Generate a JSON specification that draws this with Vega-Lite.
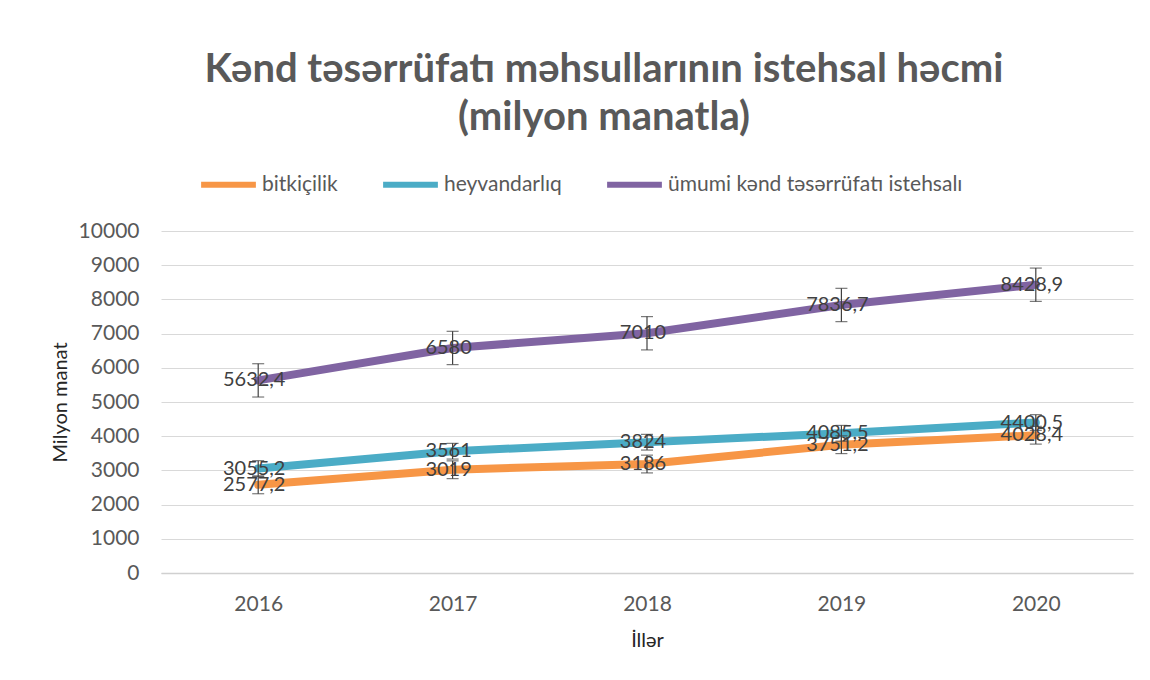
{
  "$schema": "https://vega.github.io/schema/vega-lite/v6.json",
  "width": 972,
  "height": 342,
  "padding": {"left": 50, "top": 50, "right": 15, "bottom": 20},
  "background": "white",
  "config": {
    "font": "Lato",
    "view": {"stroke": null},
    "axisY": {
      "titleFontSize": 20,
      "titleFontWeight": "normal",
      "titleColor": "#262626",
      "titlePadding": 8,
      "labelFontSize": 21,
      "labelColor": "#595959",
      "labelPadding": 22,
      "ticks": false,
      "domain": false,
      "gridColor": "#d9d9d9",
      "gridWidth": 1
    }
  },
  "title": {
    "text": ["Kənd təsərrüfatı məhsullarının istehsal həcmi", "(milyon manatla)"],
    "fontSize": 40,
    "fontWeight": "bold",
    "color": "#595959",
    "lineHeight": 48,
    "anchor": "middle",
    "dx": -43,
    "offset": 16
  },
  "data": {
    "values": [
      {"year": "2016", "series": "bitkiçilik", "value": 2577.2, "label": "2577,2", "lo": 2317.6, "hi": 2836.8},
      {"year": "2017", "series": "bitkiçilik", "value": 3019, "label": "3019", "lo": 2759.4, "hi": 3278.6},
      {"year": "2018", "series": "bitkiçilik", "value": 3186, "label": "3186", "lo": 2926.4, "hi": 3445.6},
      {"year": "2019", "series": "bitkiçilik", "value": 3751.2, "label": "3751,2", "lo": 3491.6, "hi": 4010.8},
      {"year": "2020", "series": "bitkiçilik", "value": 4028.4, "label": "4028,4", "lo": 3768.8, "hi": 4288.0},
      {"year": "2016", "series": "heyvandarlıq", "value": 3055.2, "label": "3055,2", "lo": 2825.7, "hi": 3284.7},
      {"year": "2017", "series": "heyvandarlıq", "value": 3561, "label": "3561", "lo": 3331.5, "hi": 3790.5},
      {"year": "2018", "series": "heyvandarlıq", "value": 3824, "label": "3824", "lo": 3594.5, "hi": 4053.5},
      {"year": "2019", "series": "heyvandarlıq", "value": 4085.5, "label": "4085,5", "lo": 3856.0, "hi": 4315.0},
      {"year": "2020", "series": "heyvandarlıq", "value": 4400.5, "label": "4400,5", "lo": 4171.0, "hi": 4630.0},
      {"year": "2016", "series": "ümumi kənd təsərrüfatı istehsalı", "value": 5632.4, "label": "5632,4", "lo": 5145.5, "hi": 6119.3},
      {"year": "2017", "series": "ümumi kənd təsərrüfatı istehsalı", "value": 6580, "label": "6580", "lo": 6093.1, "hi": 7066.9},
      {"year": "2018", "series": "ümumi kənd təsərrüfatı istehsalı", "value": 7010, "label": "7010", "lo": 6523.1, "hi": 7496.9},
      {"year": "2019", "series": "ümumi kənd təsərrüfatı istehsalı", "value": 7836.7, "label": "7836,7", "lo": 7349.8, "hi": 8323.6},
      {"year": "2020", "series": "ümumi kənd təsərrüfatı istehsalı", "value": 8428.9, "label": "8428,9", "lo": 7942.0, "hi": 8915.8}
    ]
  },
  "encoding": {
    "x": {
      "field": "year",
      "type": "ordinal",
      "scale": {"type": "point", "padding": 0.5},
      "axis": {
        "title": "İllər",
        "titleFontSize": 20,
        "titleFontWeight": "normal",
        "titleColor": "#262626",
        "titlePadding": 16,
        "labelAngle": 0,
        "labelFontSize": 21,
        "labelColor": "#595959",
        "labelPadding": 20,
        "ticks": false,
        "domainColor": "#d0d0d0",
        "domainWidth": 1.5,
        "grid": false
      }
    }
  },
  "layer": [
    {
      "mark": {"type": "line", "strokeWidth": 8, "strokeCap": "round", "strokeJoin": "round"},
      "encoding": {
        "y": {
          "field": "value",
          "type": "quantitative",
          "title": "Milyon manat",
          "scale": {"domain": [0, 10000], "nice": false},
          "axis": {"values": [0, 1000, 2000, 3000, 4000, 5000, 6000, 7000, 8000, 9000, 10000], "format": "d", "labelOverlap": false}
        },
        "color": {
          "field": "series",
          "type": "nominal",
          "scale": {
            "domain": ["bitkiçilik", "heyvandarlıq", "ümumi kənd təsərrüfatı istehsalı"],
            "range": ["#F79646", "#4BACC6", "#8064A2"]
          },
          "legend": {
            "title": null,
            "orient": "none",
            "direction": "horizontal",
            "legendX": 37,
            "legendY": -77,
            "symbolType": "stroke",
            "symbolStrokeWidth": 6,
            "symbolSize": 3000,
            "labelFontSize": 21,
            "labelColor": "#595959",
            "labelOffset": 3,
            "labelLimit": 500,
            "columnPadding": 33
          }
        }
      }
    },
    {
      "mark": {"type": "errorbar", "ticks": {"size": 12}, "color": "#404040", "thickness": 1.2},
      "encoding": {
        "y": {
          "field": "lo",
          "type": "quantitative",
          "title": "Milyon manat",
          "axis": {"values": [0, 1000, 2000, 3000, 4000, 5000, 6000, 7000, 8000, 9000, 10000], "format": "d", "labelOverlap": false}
        },
        "y2": {"field": "hi"}
      }
    },
    {
      "mark": {"type": "text", "fontSize": 20, "color": "#404040", "align": "center", "baseline": "middle", "dx": -4},
      "encoding": {
        "y": {
          "field": "value",
          "type": "quantitative",
          "title": "Milyon manat",
          "axis": {"values": [0, 1000, 2000, 3000, 4000, 5000, 6000, 7000, 8000, 9000, 10000], "format": "d", "labelOverlap": false}
        },
        "text": {"field": "label"}
      }
    }
  ]
}
